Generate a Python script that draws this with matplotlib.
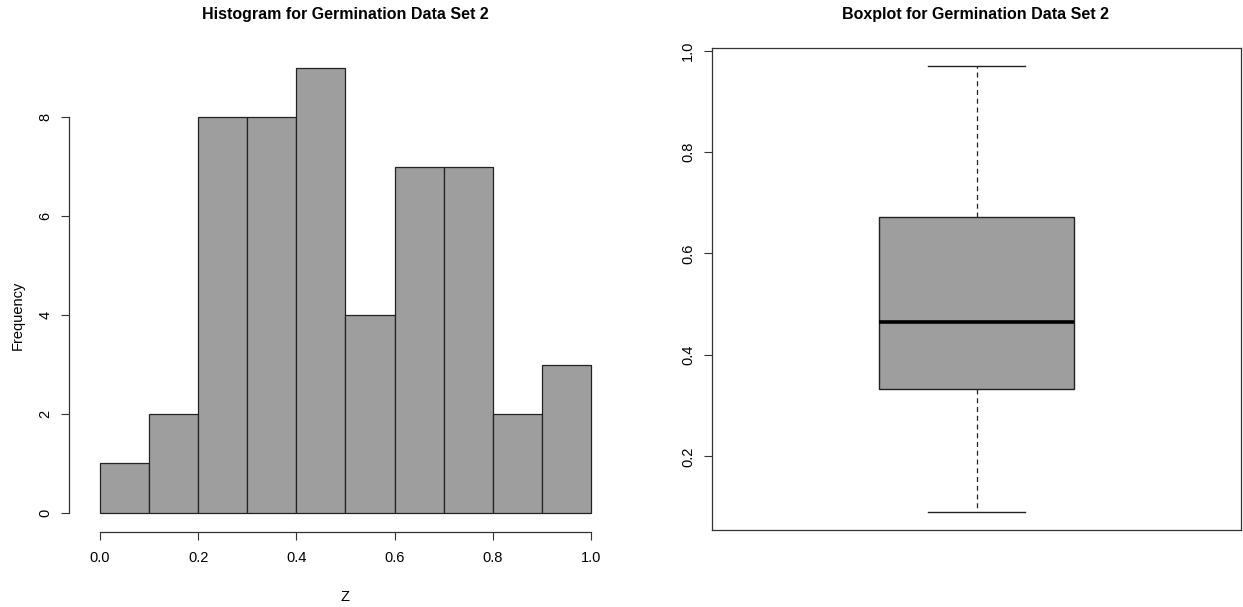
import matplotlib
matplotlib.use('Agg')
from matplotlib import pyplot as plt
import numpy as np

plt.rcParams['font.family'] = ['Liberation Sans', 'DejaVu Sans']

# histogram data (bins of width 0.1 over 0..1)
bin_edges = [0.0, 0.1, 0.2, 0.3, 0.4, 0.5, 0.6, 0.7, 0.8, 0.9, 1.0]
counts = [1, 2, 8, 8, 9, 4, 7, 7, 2, 3]

# boxplot summary
box_low = 0.09
box_q1 = 0.333
box_median = 0.465
box_q3 = 0.672
box_high = 0.97

x_ticks = [0.0, 0.2, 0.4, 0.6, 0.8, 1.0]
y_ticks_hist = [0, 2, 4, 6, 8]
y_ticks_box = [0.2, 0.4, 0.6, 0.8, 1.0]

W, H = 1243, 607
fig = plt.figure(figsize=(W / 100, H / 100), dpi=100)
fill = '#9e9e9e'


def rect(l, t, r, b):
    return [l / W, 1 - b / H, (r - l) / W, (b - t) / H]


# left: histogram
ax1 = fig.add_axes(rect(69, 50, 611, 532))
widths = np.diff(bin_edges)
ax1.bar(bin_edges[:-1], counts, width=widths, align='edge',
        color=fill, edgecolor='#222222', linewidth=0.9)
ax1.set_xlim(-0.0631, 1.0407)
ax1.set_ylim(-0.384, 9.354)
ax1.spines['top'].set_visible(False)
ax1.spines['right'].set_visible(False)
ax1.spines['left'].set_bounds(0, 8)
ax1.spines['bottom'].set_bounds(0, 1)
for s in ['left', 'bottom']:
    ax1.spines[s].set_color('#333333')
    ax1.spines[s].set_linewidth(0.9)
ax1.set_xticks(x_ticks)
ax1.set_xticklabels(['%.1f' % v for v in x_ticks])
ax1.set_yticks(y_ticks_hist)
ax1.set_yticklabels([str(v) for v in y_ticks_hist], rotation=90, va='center')
ax1.tick_params(axis='x', length=6, pad=8, labelsize=10.5, color='#333333')
ax1.tick_params(axis='y', length=6, pad=6, labelsize=10.5, color='#333333')
fig.text(18 / W, 1 - 315 / H, 'Frequency', rotation=90, ha='center', va='center',
         fontsize=10.5)
fig.text(345 / W, 1 - 597 / H, 'Z', ha='center', va='center', fontsize=10.5)
fig.text(345 / W, 1 - 15 / H, 'Histogram for Germination Data Set 2',
         ha='center', va='center', fontsize=11.5, fontweight='bold')

# right: boxplot
ax2 = fig.add_axes(rect(712, 48, 1241, 530))
stats = [dict(med=box_median, q1=box_q1, q3=box_q3,
              whislo=box_low, whishi=box_high, fliers=[])]
ax2.bxp(stats, positions=[1], widths=0.4, patch_artist=True, showfliers=False,
        boxprops=dict(facecolor=fill, edgecolor='#222222', linewidth=1),
        medianprops=dict(color='black', linewidth=2.6),
        whiskerprops=dict(color='#222222', linestyle=(0, (4, 3)), linewidth=0.9),
        capprops=dict(color='#222222', linewidth=1),
        capwidths=0.2)
ax2.set_xlim(0.46, 1.54)
ax2.set_ylim(0.055, 1.005)
ax2.set_xticks([])
ax2.set_yticks(y_ticks_box)
ax2.set_yticklabels(['%.1f' % v for v in y_ticks_box], rotation=90, va='center')
ax2.tick_params(axis='y', length=6, pad=6, labelsize=10.5, color='#333333')
for s in ax2.spines.values():
    s.set_color('#333333')
    s.set_linewidth(0.9)
fig.text(976 / W, 1 - 15 / H, 'Boxplot for Germination Data Set 2',
         ha='center', va='center', fontsize=11.5, fontweight='bold')

fig.savefig('out.png', dpi=100)
